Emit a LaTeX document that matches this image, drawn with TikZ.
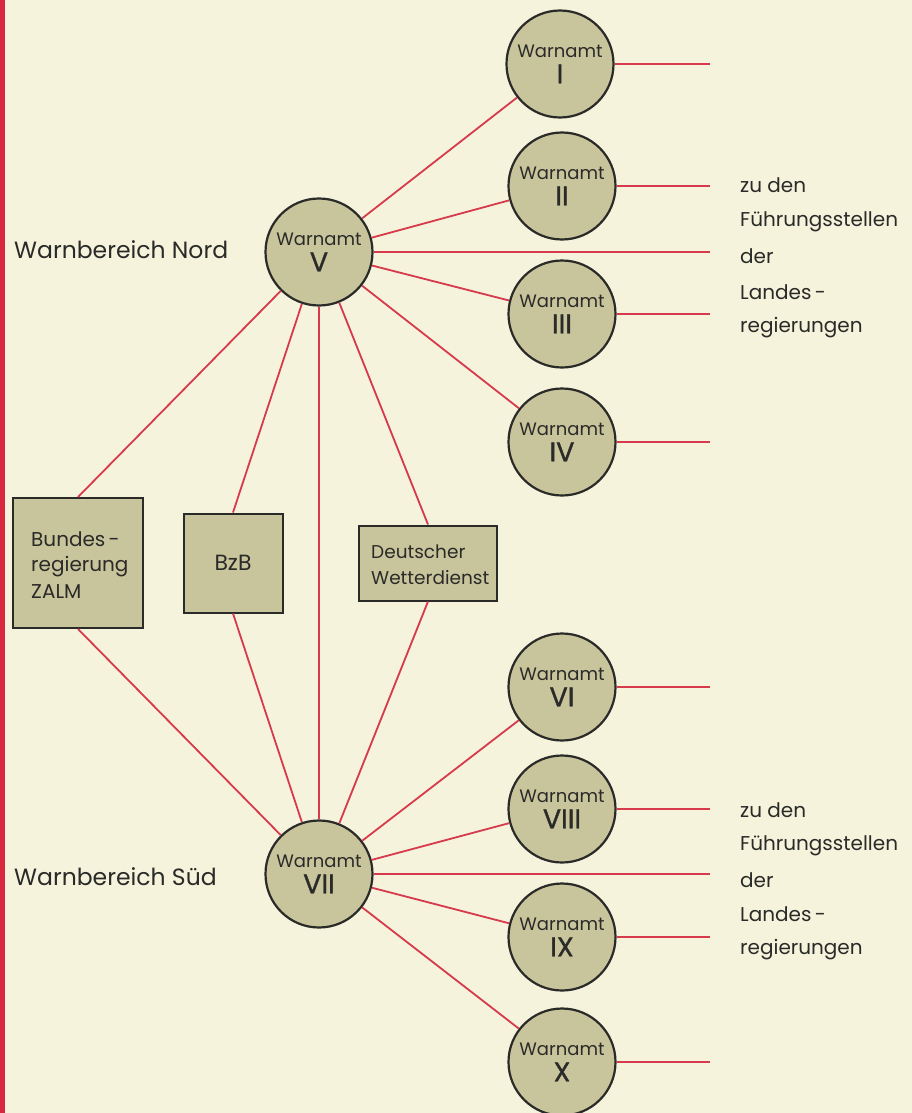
\documentclass[tikz,border=0pt]{standalone}
\usepackage{fontspec}
\setmainfont{Poppins}
\definecolor{paper}{HTML}{F5F3DC}
\definecolor{olivefill}{HTML}{C8C59C}
\definecolor{redline}{HTML}{D63A4C}
\definecolor{redbar}{HTML}{D8283F}
\definecolor{ink}{HTML}{2A2A28}
\begin{document}
\begin{tikzpicture}[x=1pt,y=-1pt,
  amt/.style={circle, draw=ink, line width=2.2pt, fill=olivefill, minimum size=107pt, inner sep=0pt, align=center, text=ink,
    font=\fontsize{18}{25}\selectfont},
  org/.style={rectangle, draw=ink, line width=2pt, fill=olivefill, inner sep=0pt, text=ink},
  wire/.style={draw=redline, line width=1.8pt},
  lbl/.style={text=ink, inner sep=0pt, anchor=west},
  side/.style={lbl, font=\fontsize{23.5}{26}\selectfont},
  dest/.style={lbl, font=\fontsize{20}{22}\selectfont},
]
\newcommand{\amtlabel}[1]{Warnamt\\[1pt]{\fontsize{27}{25}\selectfont\addfontfeatures{FakeBold=1.2}#1}}
\useasboundingbox (0,0) rectangle (912,1113);
\fill[paper] (0,0) rectangle (912,1113);
\fill[redbar] (0,0) rectangle (5,1113);

% end points of outgoing lines
\coordinate (ex) at (710,0);

% Warnbereich Nord
\node[amt] (V) at (319,252) {\amtlabel{V}};
\node[amt] (I) at (560,64) {\amtlabel{I}};
\node[amt] (II) at (562,186) {\amtlabel{II}};
\node[amt] (III) at (562,314) {\amtlabel{III}};
\node[amt] (IV) at (562,442) {\amtlabel{IV}};

% Warnbereich Sued
\node[amt] (VII) at (319,874) {\amtlabel{VII}};
\node[amt] (VI) at (562,687) {\amtlabel{VI}};
\node[amt] (VIII) at (562,809) {\amtlabel{VIII}};
\node[amt] (IX) at (562,937) {\amtlabel{IX}};
\node[amt] (X) at (562,1062) {\amtlabel{X}};

% boxes
\node[org, minimum width=130pt, minimum height=130pt] (ZALM) at (78,563) {};
\node[lbl] (zalmtxt) at (31,567) {\fontsize{20}{25}\selectfont\begin{tabular}{@{}l@{}}Bundes\,-\\regierung\\[2pt]ZALM\end{tabular}};
\node[org, minimum width=99pt, minimum height=99pt] (BzB) at (233,563) {\fontsize{22}{22}\selectfont BzB};
\node[org, minimum width=138pt, minimum height=75pt] (DWD) at (428,563) {};
\node[lbl] (dwdtxt) at (371,566) {\fontsize{18.5}{26}\selectfont\begin{tabular}{@{}l@{}}Deutscher\\Wetterdienst\end{tabular}};

% side labels
\node[side] (nord) at (14,250) {Warnbereich Nord};
\node[side] (sued) at (14,877) {Warnbereich Süd};

% right labels
\node[dest] (n1) at (740,185) {zu den};
\node[dest] (n2) at (740,222) {Führungsstellen};
\node[dest] (n3) at (740,256) {der};
\node[dest] (n4) at (740,292) {Landes\,-};
\node[dest] (n5) at (740,328) {regierungen};
\node[dest] (s1) at (740,810) {zu den};
\node[dest] (s2) at (740,846) {Führungsstellen};
\node[dest] (s3) at (740,880) {der};
\node[dest] (s4) at (740,914) {Landes\,-};
\node[dest] (s5) at (740,950) {regierungen};

% connectors north
\draw[wire] (V) -- (I);
\draw[wire] (V) -- (II);
\draw[wire] (V) -- (III);
\draw[wire] (V) -- (IV);
\draw[wire] (V.east) -- (V.east -| ex);
\draw[wire] (I.east) -- (I.east -| ex);
\draw[wire] (II.east) -- (II.east -| ex);
\draw[wire] (III.east) -- (III.east -| ex);
\draw[wire] (IV.east) -- (IV.east -| ex);
\draw[wire] (V) -- (ZALM.north);
\draw[wire] (V) -- (BzB.north);
\draw[wire] (V) -- (DWD.north);
\draw[wire] (V) -- (VII);
% connectors south
\draw[wire] (VII) -- (ZALM.south);
\draw[wire] (VII) -- (BzB.south);
\draw[wire] (VII) -- (DWD.south);
\draw[wire] (VII) -- (VI);
\draw[wire] (VII) -- (VIII);
\draw[wire] (VII) -- (IX);
\draw[wire] (VII) -- (X);
\draw[wire] (VII.east) -- (VII.east -| ex);
\draw[wire] (VI.east) -- (VI.east -| ex);
\draw[wire] (VIII.east) -- (VIII.east -| ex);
\draw[wire] (IX.east) -- (IX.east -| ex);
\draw[wire] (X.east) -- (X.east -| ex);
\end{tikzpicture}
\end{document}
